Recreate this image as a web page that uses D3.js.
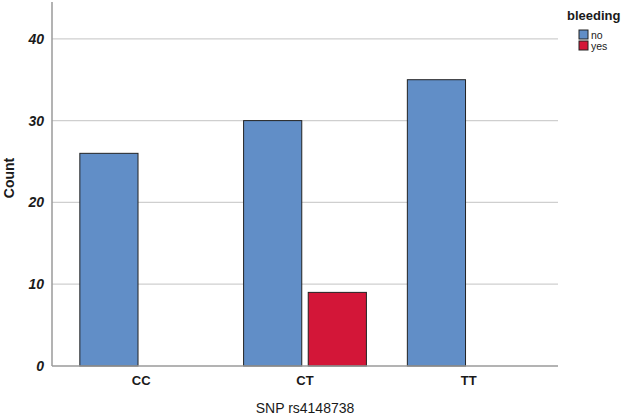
<!DOCTYPE html>
<html>
<head>
<meta charset="utf-8">
<script src="https://cdn.jsdelivr.net/npm/d3@7"></script>
<style>
  body { margin: 0; background: #fff; }
  text { font-family: "Liberation Sans", Arial, sans-serif; fill: #1a1a1a; }
</style>
</head>
<body>
<div id="container"></div>
<script>
let w = 627;
let h = 416;

// data
let genotypes = ["CC", "CT", "TT"];
let groups = ["no", "yes"];
let noCounts = [26, 30, 35];
let yesCounts = [0, 9, 0];
let yTicks = [0, 10, 20, 30, 40];
let colors = ["#618ec7", "#d31638"];

let plotL = 52, plotR = 558, plotT = 2, plotB = 366;

let viz = d3.select("#container").append("svg")
    .attr("width", w)
    .attr("height", h)
    .style("background-color", "#ffffff");

let x = d3.scaleBand().domain(genotypes).range([plotL, plotR])
    .paddingInner(0.25).paddingOuter(0.17);
let x1 = d3.scaleBand().domain(groups).range([0, x.bandwidth()]).paddingInner(0.1);
let y = d3.scaleLinear().domain([0, 44.5]).range([plotB, plotT]);
let color = d3.scaleOrdinal().domain(groups).range(colors);

// gridlines
viz.append("g").selectAll("line")
  .data(yTicks.filter(d => d > 0))
  .enter().append("line")
    .attr("x1", plotL).attr("x2", plotR)
    .attr("y1", d => y(d)).attr("y2", d => y(d))
    .attr("stroke", "#cfcfcf").attr("stroke-width", 1.2);

// bars
let rows = [];
genotypes.forEach((g, i) => {
  rows.push({g: g, s: "no", v: noCounts[i]});
  rows.push({g: g, s: "yes", v: yesCounts[i]});
});

viz.append("g").selectAll("rect")
  .data(rows.filter(d => d.v > 0))
  .enter().append("rect")
    .attr("x", d => x(d.g) + x1(d.s))
    .attr("y", d => y(d.v))
    .attr("width", x1.bandwidth())
    .attr("height", d => y(0) - y(d.v))
    .attr("fill", d => color(d.s))
    .attr("stroke", "#222")
    .attr("stroke-width", 1);

// axes lines
viz.append("line").attr("x1", plotL).attr("x2", plotL).attr("y1", plotT).attr("y2", plotB)
  .attr("stroke", "#9a9a9a").attr("stroke-width", 1.5);
viz.append("line").attr("x1", plotL).attr("x2", plotR).attr("y1", plotB).attr("y2", plotB)
  .attr("stroke", "#9a9a9a").attr("stroke-width", 1.5);

// y tick labels
let yAxis = d3.axisLeft(y).tickValues(yTicks).tickSize(0).tickPadding(8);
viz.append("g").attr("transform", `translate(${plotL},0)`).call(yAxis)
  .call(g => g.select(".domain").remove())
  .selectAll("text")
    .style("font-size", "14px").style("font-weight", "bold").style("font-style", "italic")
    .style("font-family", "'Liberation Sans', Arial, sans-serif")
    .attr("fill", "#1a1a1a");

// x tick labels
let xAxis = d3.axisBottom(x).tickSize(0).tickPadding(10);
viz.append("g").attr("transform", `translate(0,${plotB})`).call(xAxis)
  .call(g => g.select(".domain").remove())
  .selectAll("text")
    .style("font-size", "13px").style("font-weight", "bold")
    .style("font-family", "'Liberation Sans', Arial, sans-serif")
    .attr("fill", "#1a1a1a");

// axis titles
viz.append("text")
  .attr("transform", `translate(14,178) rotate(-90)`)
  .attr("text-anchor", "middle")
  .style("font-size", "14px")
  .style("font-weight", "bold")
  .text("Count");

viz.append("text")
  .attr("x", 305).attr("y", 413)
  .attr("text-anchor", "middle")
  .style("font-size", "14px")
  .text("SNP rs4148738");

// legend
viz.append("text")
  .attr("x", 567).attr("y", 20)
  .style("font-size", "13px").style("font-weight", "bold")
  .text("bleeding");

let legend = viz.append("g").selectAll("g")
  .data(groups)
  .enter().append("g")
    .attr("transform", (d, i) => `translate(579,${30 + i * 11})`);
legend.append("rect")
  .attr("width", 9).attr("height", 9)
  .attr("fill", d => color(d))
  .attr("stroke", "#222").attr("stroke-width", 1);
legend.append("text")
  .attr("x", 12).attr("y", 8.5)
  .style("font-size", "10.5px")
  .text(d => d);
</script>
</body>
</html>
